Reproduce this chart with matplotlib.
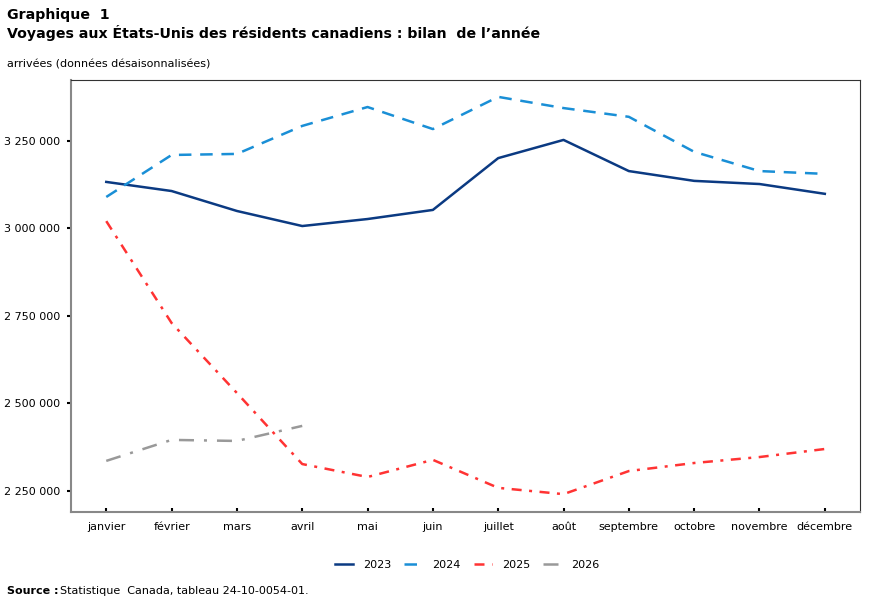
import matplotlib
matplotlib.use("Agg")
import matplotlib.pyplot as plt
from matplotlib.ticker import FuncFormatter

# Data
mois = ["janvier", "février", "mars", "avril", "mai", "juin", "juillet",
        "août", "septembre", "octobre", "novembre", "décembre"]

y2023 = [3133000, 3107000, 3050000, 3007000, 3027000, 3053000,
         3201000, 3253000, 3164000, 3136000, 3127000, 3099000]
y2024 = [3090000, 3210000, 3213000, 3293000, 3347000, 3284000,
         3376000, 3344000, 3319000, 3219000, 3164000, 3156000]
y2025 = [3021000, 2730000, 2530000, 2327000, 2290000, 2339000,
         2259000, 2241000, 2307000, 2330000, 2347000, 2370000]
y2026 = [2336000, 2396000, 2393000, 2436000]

yticks = [2250000, 2500000, 2750000, 3000000, 3250000]

plt.rcParams['font.family'] = ['DejaVu Sans']

fig = plt.figure(figsize=(8.7, 6.02), dpi=100)
ax = fig.add_axes([0.0816, 0.1495, 0.907, 0.7175])

x = list(range(len(mois)))
ax.plot(x, y2023, color="#0b3a82", lw=1.8, label="2023")
ax.plot(x, y2024, color="#1a8fd6", lw=1.8, dashes=(5, 3.5), label="2024")
ax.plot(range(len(y2025)), y2025, color="#ff3333", lw=1.8,
        dashes=(4, 3, 1.2, 3), label="2025")
ax.plot(range(len(y2026)), y2026, color="#999999", lw=1.8,
        dashes=(6, 4, 1.2, 4), label="2026")

ax.set_xlim(-0.54, 11.54)
ax.set_ylim(2190000, 3424000)
ax.set_xticks(x)
ax.set_xticklabels(mois, fontsize=8)
ax.set_yticks(yticks)
ax.yaxis.set_major_formatter(FuncFormatter(lambda v, p: f"{int(v):,}".replace(",", " ")))
ax.tick_params(axis="y", labelsize=8, length=3, width=1.5, pad=5)
ax.tick_params(axis="x", length=3, width=1.5, direction="in", pad=7)

for s in ax.spines.values():
    s.set_color("#333333")
    s.set_linewidth(0.8)
ax.spines["left"].set_color("#888888")
ax.spines["left"].set_linewidth(1.5)
ax.spines["bottom"].set_color("#888888")
ax.spines["bottom"].set_linewidth(1.5)

fig.text(0.008, 0.975, "Graphique  1", fontsize=10.2, fontweight="bold", va="center")
fig.text(0.008, 0.946, "Voyages aux États-Unis des résidents canadiens : bilan  de l’année",
         fontsize=10.2, fontweight="bold", va="center")
fig.text(0.008, 0.893, "arrivées (données désaisonnalisées)", fontsize=8, va="center")

leg = fig.legend(loc="center", bbox_to_anchor=(0.537, 0.0615), ncol=4, frameon=False,
                 fontsize=8, handlelength=1.6, handletextpad=0.9, columnspacing=1.2)

fig.text(0.008, 0.018, "Source :", fontsize=8, fontweight="bold", va="center")
fig.text(0.069, 0.018, "Statistique  Canada, tableau 24-10-0054-01.", fontsize=8, va="center")

fig.savefig("out.png", dpi=100)
